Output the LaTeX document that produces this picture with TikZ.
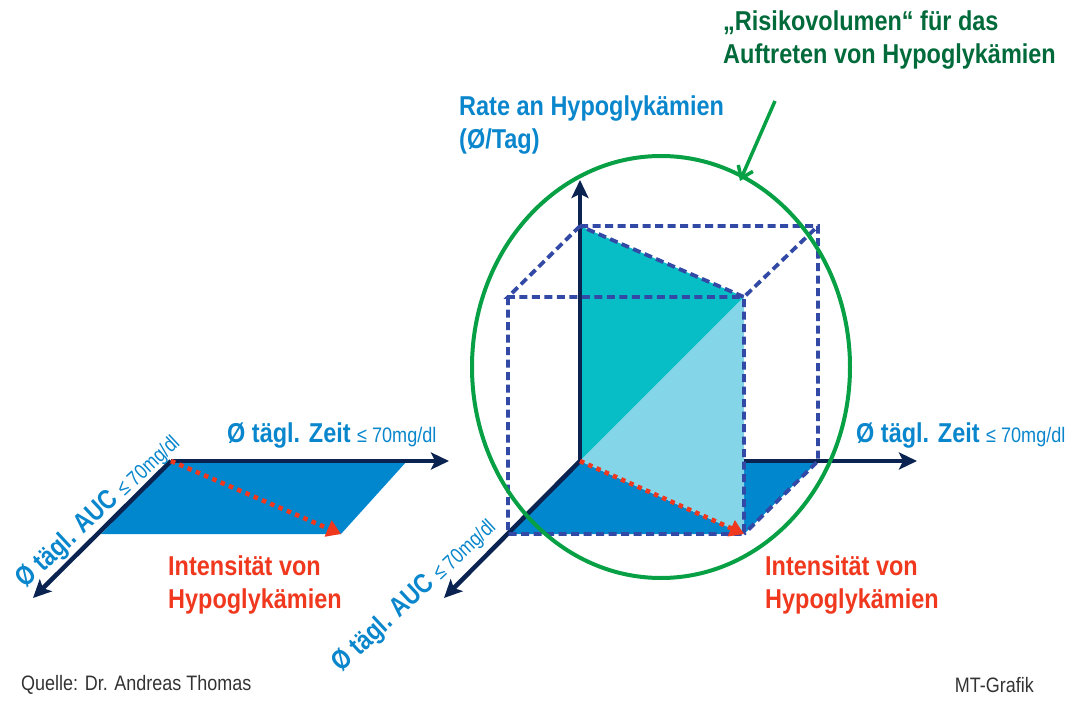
\documentclass[tikz,border=0pt]{standalone}
\usepackage{fontspec}
\setmainfont[FakeStretch=0.86]{Liberation Sans}
\usetikzlibrary{arrows.meta,shapes.geometric}

\definecolor{axisblue}{HTML}{0B2350}
\definecolor{areablue}{HTML}{0087CE}
\definecolor{labelblue}{HTML}{0A86CC}
\definecolor{hypored}{HTML}{F0381E}
\definecolor{volteal}{HTML}{07BEC6}
\definecolor{vollight}{HTML}{85D5E8}
\definecolor{boxblue}{HTML}{3249A5}
\definecolor{ringgreen}{HTML}{07A045}
\definecolor{titlegreen}{HTML}{006A3A}

\tikzset{
  axis/.style={draw=axisblue, line width=4.5pt, -{Stealth[length=18pt,width=17pt,inset=4pt]}},
  boxline/.style={draw=boxblue, line width=3.8pt, dash pattern=on 8pt off 4.5pt},
  intens/.style={draw=hypored, line width=4.6pt, dash pattern=on 4.5pt off 4.5pt, -{Triangle[length=14pt,width=17pt]}},
  biglabel/.style={inner sep=0pt, font=\fontsize{27.3}{33}\selectfont\bfseries, align=left, anchor=west},
  sourcelabel/.style={inner sep=0pt, text=black!80, font=\fontsize{20.9}{24}\selectfont},
}
\newcommand{\zeitlabel}{\textbf{Ø tägl. Zeit} {\fontsize{21}{24}\selectfont\mdseries≤ 70mg/dl}}
\newcommand{\auclabel}{\textbf{Ø tägl. AUC} {\fontsize{21}{24}\selectfont\mdseries≤ 70mg/dl}}

\begin{document}
\begin{tikzpicture}[x=1pt, y=-1pt]

  \useasboundingbox (0,0) rectangle (1080,701);

  % left plane
  \coordinate (lo) at (171,461);
  \coordinate (lx) at (449,461);
  \coordinate (lz) at (33,598);
  \coordinate (la) at (407,461);
  \coordinate (lb) at (341,534);
  \coordinate (lc) at (101,534);

  \fill[areablue] (lo) -- (la) -- (lb) -- (lc) -- cycle;
  \draw[axis] (lo) -- (lx);
  \draw[axis] (lo) -- (lz);
  \draw[intens] (lo) -- (lb);

  \node[biglabel, text=labelblue] (lzeit) at (227,435) {\zeitlabel};
  \node[biglabel, text=labelblue, rotate=43, transform shape, xscale=0.97] (lauc) at (21,584) {\auclabel};
  \node[biglabel, text=hypored] (lint) at (168,585) {Intensität von\\Hypoglykämien};

  % right cube
  \coordinate (ro) at (580,461);
  \coordinate (rx) at (917,461);
  \coordinate (ry) at (580,180);
  \coordinate (rz) at (444,598);
  \coordinate (fa) at (508,297);
  \coordinate (fb) at (744,297);
  \coordinate (fc) at (744,534);
  \coordinate (fd) at (508,534);
  \coordinate (ba) at (580,226);
  \coordinate (bb) at (818,226);
  \coordinate (bc) at (818,461);
  \coordinate (bd) at (744,461);

  \fill[areablue] (ro) -- (fc) -- (fd) -- cycle;
  \fill[areablue] (bd) -- (bc) -- (fc) -- cycle;
  \fill[volteal] (ba) -- (fb) -- (ro) -- cycle;
  \fill[vollight] (fb) -- (fc) -- (ro) -- cycle;

  \draw[axis] (bd) -- (rx);
  \draw[axis] (ro) -- (rz);
  \draw[axis, line width=3.2pt] (ro) -- (ry);

  \draw[boxline] (ba) -- (bb) -- (bc) -- (fc);
  \draw[boxline] (ba) -- (fa) -- (fb) -- (ba);
  \draw[boxline] (fa) -- (fd) -- (fc) -- (fb) -- (bb);
  \draw[intens] (ro) -- (fc);

  \node[draw=ringgreen, line width=4pt, ellipse, minimum width=378pt, minimum height=422pt, inner sep=0pt] (ring) at (661,367) {};
  \coordinate (ringstart) at (775,101);
  \draw[draw=ringgreen, line width=3.5pt, -{Straight Barb[length=11pt,width=16pt]}] (ringstart) -- (740,181);

  \node[biglabel, text=labelblue] (rrate) at (459,125) {Rate an Hypoglykämien\\(Ø/Tag)};
  \node[biglabel, text=labelblue] (rzeit) at (856,435) {\zeitlabel};
  \node[biglabel, text=labelblue, rotate=43, transform shape, xscale=0.97] (rauc) at (337,668) {\auclabel};
  \node[biglabel, text=hypored] (rint) at (765,585) {Intensität von\\Hypoglykämien};
  \node[biglabel, text=titlegreen] (title) at (723,40) {„Risikovolumen“ für das\\Auftreten von Hypoglykämien};

  \node[sourcelabel, anchor=west] (quelle) at (21,685) {Quelle: Dr. Andreas Thomas};
  \node[sourcelabel, anchor=east] (grafik) at (1034,685) {MT-Grafik};

\end{tikzpicture}
\end{document}
